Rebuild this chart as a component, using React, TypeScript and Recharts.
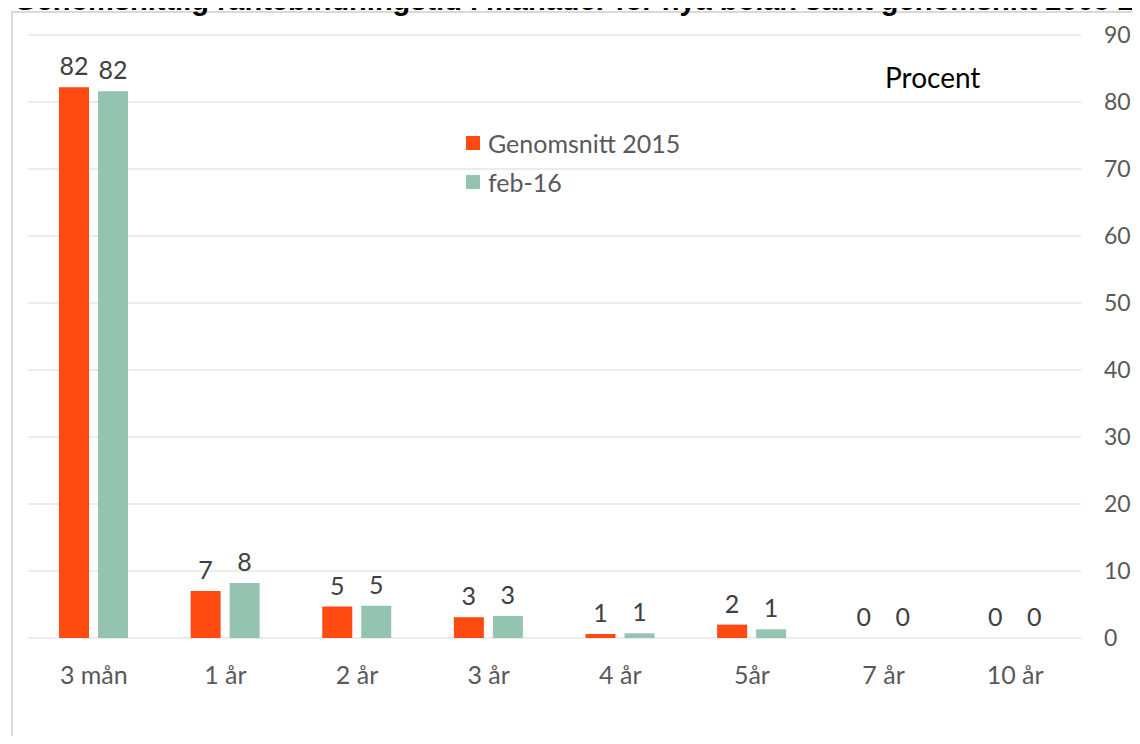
import React from "react";
import { BarChart, Bar, XAxis, YAxis, CartesianGrid, LabelList, Rectangle } from "recharts";

const categories = ["3 mån", "1 år", "2 år", "3 år", "4 år", "5år", "7 år", "10 år"];
const avg2015 = [82.2, 7.0, 4.7, 3.1, 0.6, 2.0, 0, 0];
const feb16 = [81.6, 8.2, 4.8, 3.3, 0.7, 1.3, 0, 0];
const yTicks = [0, 10, 20, 30, 40, 50, 60, 70, 80, 90];
const seriesNames = ["Genomsnitt 2015", "feb-16"];
const title = "Genomsnittlig räntebindningstid i månader för nya bolån samt genomsnitt 2005 2015";

const data = categories.map((c, i) => ({ cat: c, a: avg2015[i], b: feb16[i] }));

const ORANGE = "#FF4B12";
const TEAL = "#94C3AF";
const COLORS = [ORANGE, TEAL];
const FONT = "Lato, 'Noto Sans', sans-serif";

const renderValueLabel = (props: any) => {
  const { x, y, width, value } = props;
  if (value === undefined || value === null) return null;
  return (
    <text
      x={Number(x) + Number(width) / 2}
      y={Number(y) - 12}
      textAnchor="middle"
      fill="#404040"
      fontSize={25}
      fontFamily={FONT}
    >
      {String(Math.round(Number(value)))}
    </text>
  );
};

const barShape = (props: any) => {
  if (!props.height || Math.abs(Number(props.height)) < 1) return <g />;
  return <Rectangle {...props} />;
};

export default function App() {
  return (
    <div style={{ position: "relative", margin: -8, width: 1140, height: 744, overflow: "hidden", background: "#fff" }}>
      <div
        style={{
          position: "absolute",
          left: 11,
          top: 11,
          width: 1300,
          height: 900,
          border: "2px solid #d9d9d9",
        }}
      />
      <div style={{ position: "absolute", left: 0, top: 0 }}>
        <BarChart
          width={1140}
          height={744}
          data={data}
          margin={{ top: 35, right: 0, left: 28, bottom: 66 }}
          barGap={9}
          barCategoryGap="24%"
        >
          <CartesianGrid vertical={false} stroke="#d9d9d9" strokeWidth={1.2} />
          <XAxis
            dataKey="cat"
            axisLine={false}
            tickLine={false}
            tickSize={0}
            tickMargin={28}
            height={40}
            tick={{ fill: "#595959", fontSize: 25, fontFamily: FONT }}
          />
          <YAxis
            orientation="right"
            domain={[0, 90]}
            ticks={yTicks}
            axisLine={false}
            tickLine={false}
            tickSize={0}
            tickMargin={23}
            width={59}
            tick={{ fill: "#595959", fontSize: 23, fontFamily: FONT, textAnchor: "start" }}
          />
          <Bar
            dataKey="a"
            name={seriesNames[0]}
            fill={ORANGE}
            barSize={30}
            minPointSize={0.5}
            shape={barShape}
            isAnimationActive={false}
          >
            <LabelList dataKey="a" content={renderValueLabel} />
          </Bar>
          <Bar
            dataKey="b"
            name={seriesNames[1]}
            fill={TEAL}
            barSize={30}
            minPointSize={0.5}
            shape={barShape}
            isAnimationActive={false}
          >
            <LabelList dataKey="b" content={renderValueLabel} />
          </Bar>
        </BarChart>
      </div>
      <div style={{ position: "absolute", left: 466, top: 123, fontFamily: FONT }}>
        {seriesNames.map((n, i) => (
          <div key={n} style={{ display: "flex", alignItems: "center", height: 39 }}>
            <div style={{ width: 14, height: 14, background: COLORS[i], marginRight: 8 }} />
            <span style={{ fontSize: 25, color: "#595959" }}>{n}</span>
          </div>
        ))}
      </div>
      <div
        style={{
          position: "absolute",
          left: 885,
          top: 60,
          fontFamily: FONT,
          fontSize: 28,
          color: "#000",
        }}
      >
        Procent
      </div>
      <div
        style={{
          position: "absolute",
          left: 14,
          top: -15,
          zIndex: 5,
          whiteSpace: "nowrap",
          fontFamily: "'Liberation Sans', Arial, sans-serif",
          fontWeight: "bold",
          fontSize: 29,
          lineHeight: "30px",
          color: "#000",
        }}
      >
        {title}
      </div>
    </div>
  );
}
